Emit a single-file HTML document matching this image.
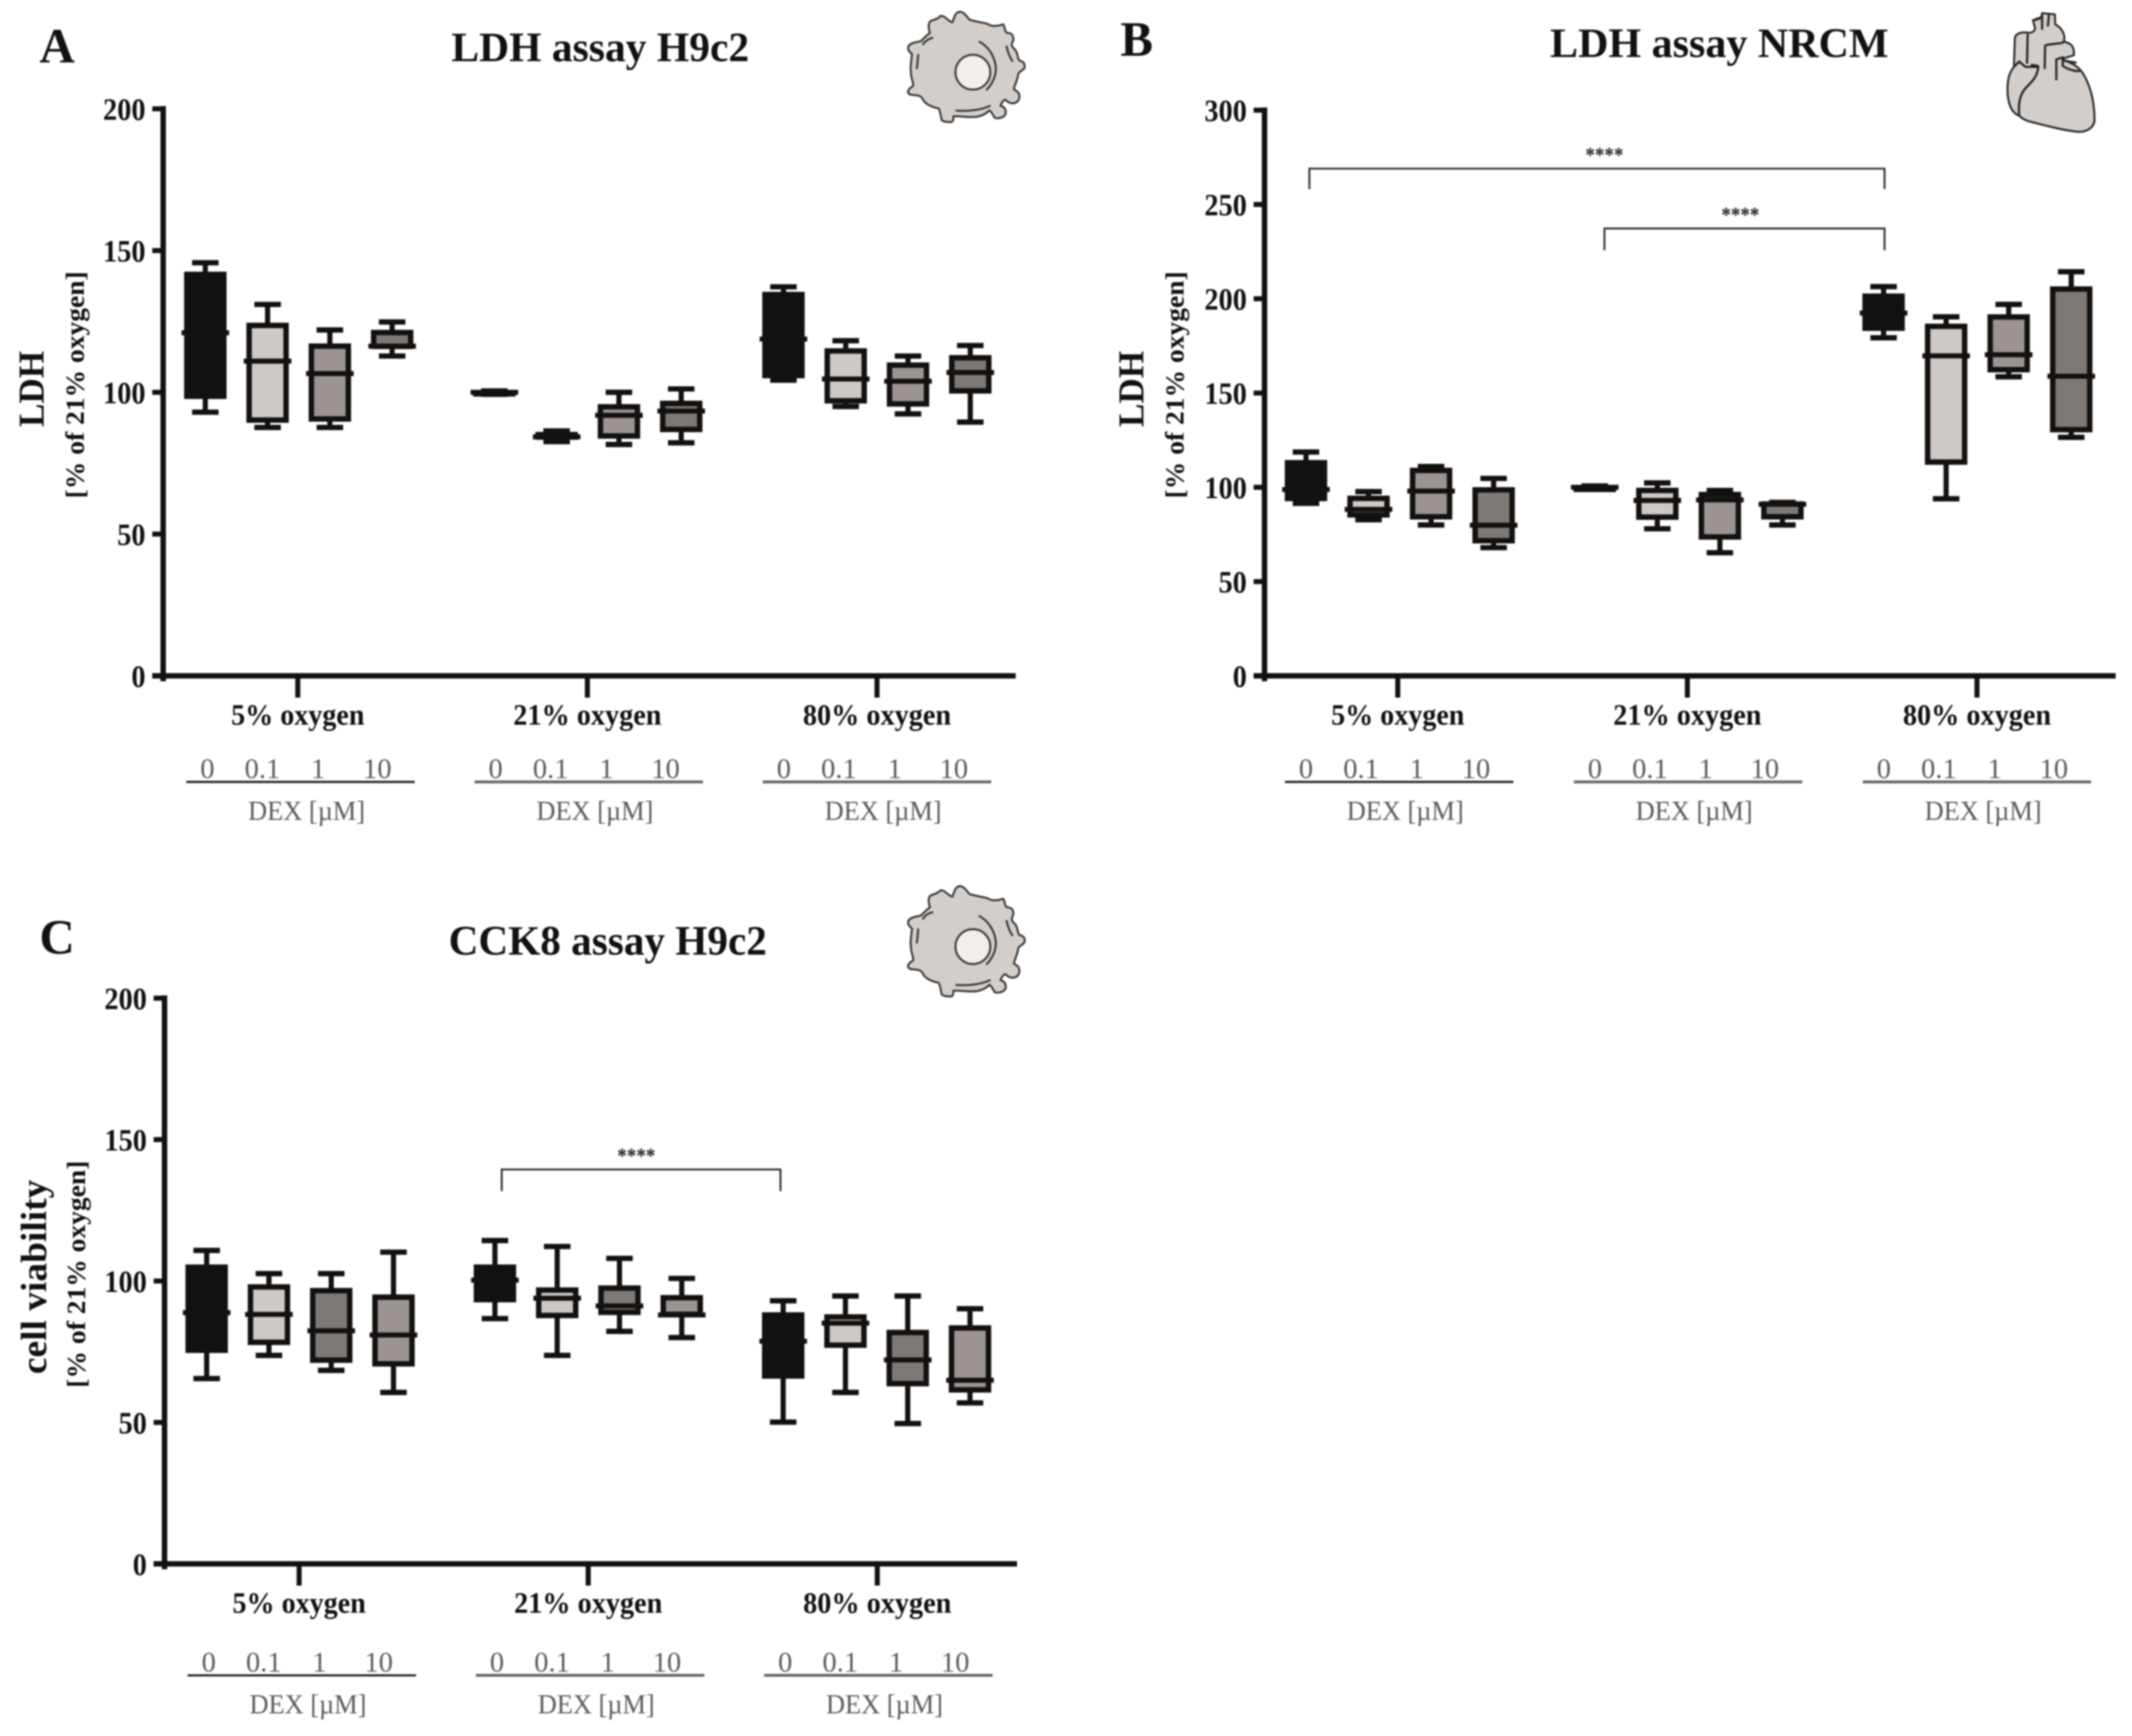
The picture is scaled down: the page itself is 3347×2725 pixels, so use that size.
<!DOCTYPE html>
<html lang="en">
<head>
<meta charset="utf-8">
<title>LDH and CCK8 assays</title>
<style>
html,body{margin:0;padding:0;background:#fff;}
#figure{display:block;width:3347px;height:2725px;filter:blur(1.4px);}
text{font-family:"Liberation Serif",serif;}
</style>
</head>
<body>
<svg id="figure" xmlns="http://www.w3.org/2000/svg" viewBox="0 0 1568 1276.6" width="3347" height="2725">
<rect width="1568" height="1277" fill="#fff"/>
<defs>
<g id="cell-shape">
<path d="M140 215 C155 198 180 200 200 192 C215 175 225 165 240 155 C230 130 232 105 245 98 C262 92 275 90 290 75 C310 72 325 100 345 105 C355 85 355 60 380 55 C400 55 415 80 425 92 C450 100 480 105 510 112 C530 125 550 125 585 115 C595 130 590 150 605 155 C625 155 635 170 632 190 C625 205 620 215 635 228 C655 245 650 270 660 285 C675 288 690 295 685 320 C675 335 660 335 655 350 C655 370 640 395 635 420 C650 430 665 435 660 465 C650 490 620 495 595 470 C585 470 575 490 572 497 C595 505 600 520 595 540 C585 555 560 560 545 555 C535 540 530 525 520 520 C510 530 490 545 460 550 C420 555 380 545 350 548 C350 560 350 572 340 575 C320 575 300 572 295 565 C290 545 290 525 280 510 C250 505 215 490 205 465 C195 445 170 450 145 445 C130 435 135 420 160 405 C165 395 150 370 150 340 C145 310 155 270 155 255 C145 245 130 235 140 215 Z" fill="#d3cec9" stroke="#333" stroke-width="9"/>
<circle cx="442" cy="340" r="82" fill="#f1eeeb" stroke="#333" stroke-width="9"/>
<path d="M470 195 C510 215 545 260 550 320 C552 360 530 400 505 425 M185 255 L178 325 M205 212 C215 195 235 180 255 178 M600 215 C605 240 615 270 630 290 M360 520 C410 525 480 520 525 497" fill="none" stroke="#333" stroke-width="9"/>
</g>
</defs>
<g id="icons">
<use href="#cell-shape" transform="translate(646.5 0) scale(0.15616)"/>
<use href="#cell-shape" transform="translate(646.5 643) scale(0.15616)"/>
<g transform="translate(1461.6 0) scale(0.15616)">
<path d="M150 545 C110 530 95 480 95 420 C95 370 105 340 125 315 L130 175 C140 150 180 150 195 155 C205 155 222 150 225 135 L215 95 L255 80 L258 62 L318 68 L320 115 C350 130 370 165 360 195 C385 205 410 205 408 260 L360 275 L360 285 C400 295 430 315 450 345 C490 410 505 490 505 570 C500 600 470 625 420 620 C340 610 270 590 210 575 C185 570 165 560 150 545 Z" fill="#d3cec9" stroke="#222" stroke-width="9"/>
<path d="M150 545 C145 480 155 440 185 410 C215 380 235 360 240 315 L180 315 L150 290 L125 315 M190 160 L187 300 M205 305 L240 310 M270 325 L272 215 C290 205 320 210 360 200 M325 378 L325 280 L355 270 L355 310 C385 330 410 335 435 335 M358 285 L420 295 M258 70 L258 140 M290 70 L285 125 M225 95 L250 85" fill="none" stroke="#222" stroke-width="10"/>
</g>
</g>
<g id="panels"></g>
</svg>
<script>
// Shared categories and tick labels
const oxygenGroups = ['5% oxygen', '21% oxygen', '80% oxygen'];
const doseLabels = ['0', '0.1', '1', '10'];
const ticksLDH200 = [0, 50, 100, 150, 200];
const ticksLDH300 = [0, 50, 100, 150, 200, 250, 300];

// Panel A: LDH assay H9c2 (order: 5% 0/0.1/1/10, 21% ..., 80% ...)
const aWhiskerHigh = [145.7, 131, 122, 124.8, 100.5, 86.4, 100, 101.2, 137.2, 118.2, 112.8, 116.5];
const aQ3 = [142.5, 124.5, 117.2, 122, 100.6, 86, 95.8, 97, 135.4, 115.5, 110.5, 113.1];
const aMedian = [121, 111, 106.6, 116.3, 100, 84.3, 91.9, 93.4, 118.8, 104.7, 103.9, 107];
const aQ1 = [97.7, 89.3, 89.7, 115.3, 99.4, 83.3, 83.7, 86, 105, 96.1, 95, 99.6];
const aWhiskerLow = [93, 87.6, 87.6, 112.8, 99.3, 82.6, 81.6, 82.2, 104.3, 95, 92.4, 89.5];

// Panel B: LDH assay NRCM
const bWhiskerHigh = [118.7, 97.7, 111, 104.7, 100.7, 102.3, 98.3, 92, 206.4, 190.4, 197, 214.3];
const bQ3 = [114.4, 95.5, 110.3, 100, 100.6, 99.7, 97.5, 92.5, 202.7, 186.7, 191.7, 206.5];
const bMedian = [98.8, 88.3, 98, 79.9, 100, 93, 93.3, 91, 192.4, 169.7, 170.3, 158.9];
const bQ1 = [92.7, 84, 83, 70.3, 99.4, 82.8, 72.3, 83, 183, 112, 161, 129.2];
const bWhiskerLow = [91.5, 82.8, 80, 68, 99.3, 78, 65.3, 80, 179.3, 93.9, 158.6, 126.5];

// Panel C: CCK8 assay H9c2
const cWhiskerHigh = [110.8, 102.6, 102.6, 110.2, 114.3, 112.2, 108, 100.9, 93, 94.7, 94.7, 90.2];
const cQ3 = [105.8, 98.8, 97.5, 95.2, 105.8, 97.7, 98.4, 95, 88.9, 88.2, 82.7, 84.3];
const cMedian = [88.8, 88.2, 82.4, 80.9, 100.3, 93.9, 91.2, 88, 78.7, 85.1, 72.1, 64.9];
const cQ1 = [74.6, 77.4, 71.1, 69.8, 92.5, 86.9, 88, 87.3, 65.5, 76.4, 62.8, 60.6];
const cWhiskerLow = [65.5, 73.7, 68.4, 60.6, 86.7, 73.7, 82.2, 80, 50.1, 60.6, 49.6, 56.9];

const SVGNS = 'http://www.w3.org/2000/svg';
const INK = '#131110';
const GREY = '#5e5a58';
const BLACK_FILL = '#121110';
const LIGHT_FILL = '#cfc9c5';
const MID_FILL = '#9b9492';
const DARK_FILL = '#7e7975';
const root = document.getElementById('panels');

function make(tag, parent, attrs, txt) {
  const el = document.createElementNS(SVGNS, tag);
  for (const k in attrs) el.setAttribute(k, attrs[k]);
  if (txt !== undefined) el.textContent = txt;
  parent.appendChild(el);
  return el;
}
function line(parent, x1, y1, x2, y2, stroke, w) {
  return make('line', parent, {x1: x1, y1: y1, x2: x2, y2: y2, stroke: stroke, 'stroke-width': w});
}
function label(parent, s, x, y, size, opts) {
  const o = opts || {};
  const a = {x: x, y: y, 'font-size': size, fill: o.fill || INK, 'text-anchor': o.anchor || 'middle', 'font-weight': o.weight || 'bold'};
  if (o.len) { a.textLength = o.len; a.lengthAdjust = 'spacingAndGlyphs'; }
  if (o.rotate) a.transform = 'rotate(-90 ' + x + ' ' + y + ')';
  return make('text', parent, a, s);
}

function drawPanel(p) {
  const g = make('g', root, {});
  
  

  const panelLetter = label(g, p.letter, p.letterX, p.letterY, 36, {anchor: 'start'});
  
  

  const title = label(g, p.title, p.titleX, p.titleY, 31, {anchor: 'start', len: p.titleLen});
  
  

  const yScale = v => p.y0 - (v / p.yMax) * (p.y0 - p.yTop);
  const xScale = (grp, dose) => p.boxStart + grp * p.groupStep + dose * p.boxStep;

  // Y axis
  const yAxis = line(g, p.axisX, p.yTop - 2, p.axisX, p.y0 + 4, INK, 4);
  
  
  p.yTicks.forEach(t => {
    const tick = line(g, p.axisX - 8, yScale(t), p.axisX, yScale(t), INK, 3.7);
    
    
    const tl = label(g, String(t), p.axisX - 13, yScale(t) + 8, 23, {anchor: 'end', len: String(t).length * 10.4});
    
    
  });

  // X axis
  const xAxis = line(g, p.axisX - 8, p.y0, p.xEnd, p.y0, INK, 4);
  
  

  // Y titles
  const yTitle = label(g, p.yTitle, p.yTitleX, p.yTitleY, 27, {rotate: true, len: p.yTitleLen});
  
  
  const ySub = label(g, '[% of 21% oxygen]', p.ySubX, p.ySubY, 19.5, {rotate: true, len: 167});
  
  

  // Group labels, dose labels
  oxygenGroups.forEach((name, gi) => {
    const tx = p.tickStart + gi * p.tickStep;
    const tick = line(g, tx, p.y0, tx, p.y0 + 16, INK, 3.7);
    
    
    const gl = label(g, name, tx, p.y0 + 36, 22, {len: gi === 0 ? 98 : 109});
    
    

    const ruleX = p.ruleStart + gi * p.ruleStep;
    const rule = line(g, ruleX, p.ruleY, ruleX + 168, p.ruleY, gi === 0 ? '#222' : '#666', gi === 0 ? 1.6 : 2.1);
    
    
    doseLabels.forEach((d, di) => {
      const dl = label(g, d, ruleX + 15.5 + [0, 40.5, 81.5, 125][di], p.ruleY - 3, 21, {fill: GREY, weight: 'normal'});
      
      
    });
    const dex = label(g, 'DEX [µM]', ruleX + 88.5, p.ruleY + 28, 20.5, {fill: GREY, weight: 'normal', len: 86});
    
    
  });

  // Boxes
  p.median.forEach((m, i) => {
    const grp = Math.floor(i / 4);
    const dose = i % 4;
    const cx = xScale(grp, dose);
    const bg = make('g', g, {});
    
    
    const hi = yScale(p.high[i]), lo = yScale(p.low[i]);
    const q3 = yScale(p.q3[i]), q1 = yScale(p.q1[i]), md = yScale(m);
    line(bg, cx, hi, cx, lo, INK, 3.8);
    line(bg, cx - 9.75, hi, cx + 9.75, hi, INK, 3.9);
    line(bg, cx - 9.75, lo, cx + 9.75, lo, INK, 3.9);
    const inset = 1.9;
    make('rect', bg, {x: cx - 15.5 + inset, y: q3 + inset, width: 31 - 2 * inset, height: Math.max(q1 - q3 - 2 * inset, 0.5), fill: p.fills[dose], stroke: INK, 'stroke-width': 4});
    line(bg, cx - 17.5, md, cx + 17.5, md, INK, 3.7);
  });

  // Significance brackets
  p.brackets.forEach((b, bi) => {
    const br = make('path', g, {d: 'M' + b.x1 + ' ' + (b.y + b.drop) + ' V' + b.y + ' H' + b.x2 + ' V' + (b.y + b.drop), fill: 'none', stroke: '#2e2e2e', 'stroke-width': 1.4});
    
    
    const st = label(g, '****', b.starX, b.y - 5, 16, {fill: '#222', weight: 'bold', len: 28});
    
    
  });
}

drawPanel({
  id: 'a', letter: 'A', letterX: 29, letterY: 46,
  title: 'LDH assay H9c2', titleX: 332, titleY: 45, titleLen: 219,
  axisX: 120, xEnd: 747, y0: 497, yTop: 80, yMax: 200, yTicks: ticksLDH200,
  yTitle: 'LDH', yTitleX: 32, yTitleY: 286, yTitleLen: 56, ySubX: 61.5, ySubY: 283,
  boxStart: 151, groupStep: 212.6, boxStep: 45.8,
  tickStart: 219, tickStep: 213, ruleStart: 137, ruleStep: 212, ruleY: 575,
  fills: [BLACK_FILL, LIGHT_FILL, MID_FILL, DARK_FILL],
  high: aWhiskerHigh, q3: aQ3, median: aMedian, q1: aQ1, low: aWhiskerLow,
  brackets: []
});

drawPanel({
  id: 'b', letter: 'B', letterX: 824, letterY: 41,
  title: 'LDH assay NRCM', titleX: 1140, titleY: 42, titleLen: 249,
  axisX: 930, xEnd: 1556, y0: 497, yTop: 81, yMax: 300, yTicks: ticksLDH300,
  yTitle: 'LDH', yTitleX: 841, yTitleY: 286, yTitleLen: 56, ySubX: 870.5, ySubY: 283,
  boxStart: 960.5, groupStep: 212.4, boxStep: 46,
  tickStart: 1028, tickStep: 213, ruleStart: 945, ruleStep: 212.5, ruleY: 575,
  fills: [BLACK_FILL, LIGHT_FILL, MID_FILL, DARK_FILL],
  high: bWhiskerHigh, q3: bQ3, median: bMedian, q1: bQ1, low: bWhiskerLow,
  brackets: [
    {x1: 963, x2: 1386, y: 124, drop: 15, starX: 1180},
    {x1: 1180, x2: 1386, y: 168, drop: 16, starX: 1280}
  ]
});

drawPanel({
  id: 'c', letter: 'C', letterX: 29, letterY: 701,
  title: 'CCK8 assay H9c2', titleX: 330, titleY: 702, titleLen: 234,
  axisX: 121, xEnd: 748, y0: 1150, yTop: 734, yMax: 200, yTicks: ticksLDH200,
  yTitle: 'cell viability', yTitleX: 34, yTitleY: 939, yTitleLen: 143, ySubX: 62.5, ySubY: 937,
  boxStart: 152, groupStep: 212, boxStep: 45.8,
  tickStart: 220, tickStep: 212.6, ruleStart: 138, ruleStep: 212, ruleY: 1232,
  fills: [BLACK_FILL, LIGHT_FILL, DARK_FILL, MID_FILL],
  high: cWhiskerHigh, q3: cQ3, median: cMedian, q1: cQ1, low: cWhiskerLow,
  brackets: [
    {x1: 369, x2: 574, y: 860, drop: 16, starX: 468}
  ]
});
</script>
</body>
</html>
